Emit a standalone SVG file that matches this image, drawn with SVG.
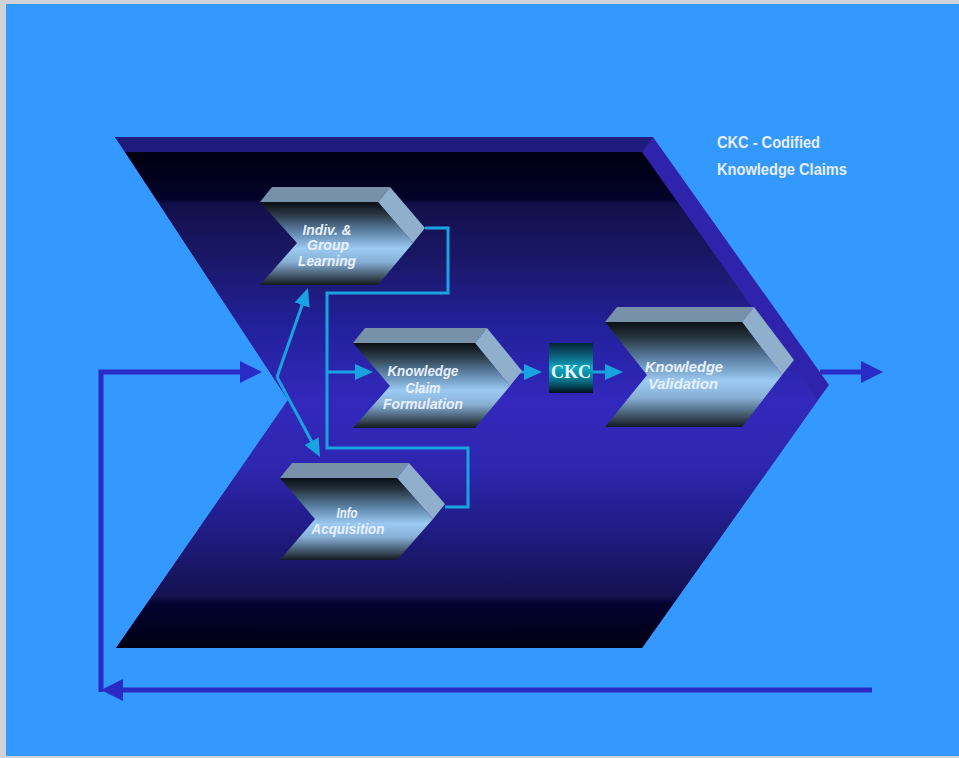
<svg xmlns="http://www.w3.org/2000/svg" width="959" height="758" viewBox="0 0 959 758">
  <style>
    .band-top { fill: #1f1b7d; }
    .band-side { fill: #2e23aa; }
    .chip-top { fill: #7891aa; }
    .chip-side { fill: #90afcc; }
    .chip-face { fill: url(#chipFace); }
    .chip-label { font-family: "Liberation Sans", Arial, sans-serif; font-size: 14px; font-weight: bold; font-style: italic; fill: #e8f1ff; text-anchor: middle; }
    .legend { font-family: "Liberation Sans", Arial, sans-serif; font-size: 16px; font-weight: bold; fill: #e8eef8; }
    .flow { fill: none; stroke: #2a2ac6; stroke-width: 5; }
    .link { fill: none; stroke: #19a3e0; stroke-width: 3; }
  </style>
  <defs>
    <linearGradient id="bigFace" x1="0" y1="0" x2="0" y2="1">
      <stop offset="0" stop-color="#000010"/>
      <stop offset="0.095" stop-color="#02022a"/>
      <stop offset="0.105" stop-color="#12104a"/>
      <stop offset="0.22" stop-color="#1a1868"/>
      <stop offset="0.35" stop-color="#22209a"/>
      <stop offset="0.5" stop-color="#3228bc"/>
      <stop offset="0.63" stop-color="#2e26b0"/>
      <stop offset="0.76" stop-color="#201c84"/>
      <stop offset="0.895" stop-color="#141250"/>
      <stop offset="0.91" stop-color="#020230"/>
      <stop offset="1" stop-color="#000014"/>
    </linearGradient>
    <linearGradient id="chipFace" x1="0" y1="0" x2="0" y2="1">
      <stop offset="0" stop-color="#0a0f14"/>
      <stop offset="0.14" stop-color="#26343f"/>
      <stop offset="0.36" stop-color="#5e84a8"/>
      <stop offset="0.56" stop-color="#9ccaf2"/>
      <stop offset="0.72" stop-color="#88b0d6"/>
      <stop offset="0.87" stop-color="#4a6076"/>
      <stop offset="1" stop-color="#141a20"/>
    </linearGradient>
    <linearGradient id="ckcFace" x1="0" y1="0" x2="0" y2="1">
      <stop offset="0" stop-color="#06283a"/>
      <stop offset="0.22" stop-color="#0a5670"/>
      <stop offset="0.5" stop-color="#0ca8c2"/>
      <stop offset="0.75" stop-color="#06728a"/>
      <stop offset="1" stop-color="#00101a"/>
    </linearGradient>
    <marker id="headDark" viewBox="0 0 22 22" refX="10" refY="11" markerWidth="22" markerHeight="22" markerUnits="userSpaceOnUse" orient="auto">
      <path d="M0,0 L22,11 L0,22 Z" fill="#2a2ac6"/>
    </marker>
    <marker id="headCyan" viewBox="0 0 18 16" refX="8" refY="8" markerWidth="18" markerHeight="16" markerUnits="userSpaceOnUse" orient="auto">
      <path d="M0,0 L18,8 L0,16 Z" fill="#19a3e0"/>
    </marker>
  </defs>

  <!-- page -->
  <rect x="0" y="0" width="959" height="758" fill="#cfd3d8"/>
  <rect x="6" y="4" width="953" height="752" fill="#3399ff"/>

  <!-- large extruded chevron -->
  <g id="process-chevron">
    <polygon class="band-side" points="115,137 653,137 829,385 818,400 642,648 116,648 288,400"/>
    <polygon class="band-top" points="115,137 653,137 642,152 125,152"/>
    <polygon fill="url(#bigFace)" points="125,152 642,152 818,400 642,648 116,648 288,400"/>
  </g>

  <!-- connectors -->
  <g id="connectors">
    <path class="link" d="M425,228 H448 V293 H327 V448 H468 V507 H445"/>
    <path class="link" d="M277,377 L304.7,297.5" marker-end="url(#headCyan)"/>
    <path class="link" d="M277,377 L315.3,448.2" marker-end="url(#headCyan)"/>
    <path class="link" d="M327,372 H363" marker-end="url(#headCyan)"/>
    <path class="link" d="M514,372 H532" marker-end="url(#headCyan)"/>
    <path class="link" d="M593,372 H613" marker-end="url(#headCyan)"/>
    <path class="flow" d="M820,372 H871" marker-end="url(#headDark)"/>
    <path class="flow" d="M872,690 H113" marker-end="url(#headDark)"/>
    <path class="flow" d="M101,692 V372 H250" marker-end="url(#headDark)"/>
  </g>

  <g id="indiv-group-learning">
    <polygon class="chip-top" points="260,202 272,187 390,187 378,202"/>
    <polygon class="chip-side" points="378,202 390,187 425,228 413,243"/>
    <polygon class="chip-face" points="260,202 378,202 413,243 378,285 260,285 297,243"/>
    <text class="chip-label" x="327" y="235" textLength="49" lengthAdjust="spacingAndGlyphs">Indiv. &amp;</text>
    <text class="chip-label" x="328" y="250" textLength="42" lengthAdjust="spacingAndGlyphs">Group</text>
    <text class="chip-label" x="327" y="266" textLength="58" lengthAdjust="spacingAndGlyphs">Learning</text>
  </g>

  <g id="knowledge-claim-formulation">
    <polygon class="chip-top" points="353,343 365,328 487,328 475,343"/>
    <polygon class="chip-side" points="475,343 487,328 522,371 510,386"/>
    <polygon class="chip-face" points="353,343 475,343 510,386 475,428 353,428 390,386"/>
    <text class="chip-label" x="423" y="376" textLength="71" lengthAdjust="spacingAndGlyphs">Knowledge</text>
    <text class="chip-label" x="423" y="393" textLength="35" lengthAdjust="spacingAndGlyphs">Claim</text>
    <text class="chip-label" x="423" y="409" textLength="80" lengthAdjust="spacingAndGlyphs">Formulation</text>
  </g>

  <g id="ckc">
    <rect x="549" y="343" width="44" height="50" fill="url(#ckcFace)"/>
    <text x="571" y="378" font-family="'Liberation Serif', 'Times New Roman', serif" font-size="18" font-weight="bold" fill="#e8f4ff" text-anchor="middle">CKC</text>
  </g>

  <g id="knowledge-validation">
    <polygon class="chip-top" points="605,322 617,307 754,307 742,322"/>
    <polygon class="chip-side" points="742,322 754,307 794,360 782,375"/>
    <polygon class="chip-face" points="605,322 742,322 782,375 742,427 605,427 647,375"/>
    <text class="chip-label" x="684" y="372" textLength="78" lengthAdjust="spacingAndGlyphs">Knowledge</text>
    <text class="chip-label" x="683" y="389" textLength="70" lengthAdjust="spacingAndGlyphs">Validation</text>
  </g>

  <g id="info-acquisition">
    <polygon class="chip-top" points="280,478 292,463 409,463 397,478"/>
    <polygon class="chip-side" points="397,478 409,463 445,504 433,519"/>
    <polygon class="chip-face" points="280,478 397,478 433,519 397,560 280,560 315,519"/>
    <text class="chip-label" x="347" y="518" textLength="21" lengthAdjust="spacingAndGlyphs">Info</text>
    <text class="chip-label" x="348" y="534" textLength="73" lengthAdjust="spacingAndGlyphs">Acquisition</text>
  </g>

  <g id="legend">
    <text class="legend" x="717" y="148" textLength="103" lengthAdjust="spacingAndGlyphs">CKC - Codified</text>
    <text class="legend" x="717" y="175" textLength="130" lengthAdjust="spacingAndGlyphs">Knowledge Claims</text>
  </g>
</svg>
